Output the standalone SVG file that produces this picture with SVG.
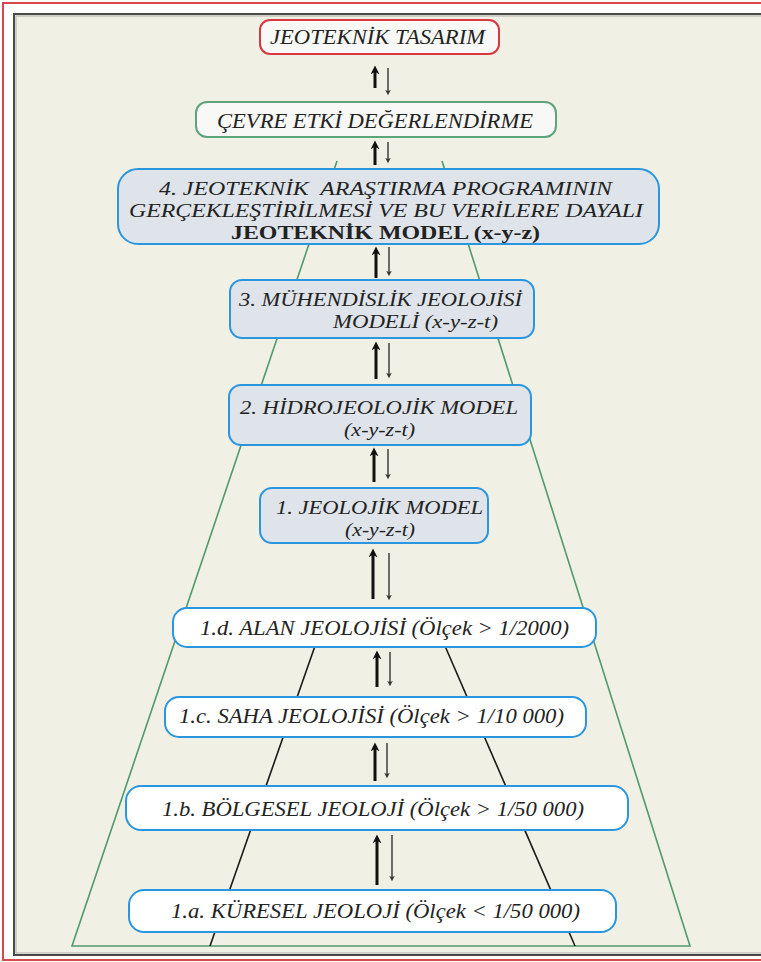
<svg xmlns="http://www.w3.org/2000/svg" width="761" height="962" viewBox="0 0 761 962">
<style>
  text { font-family: "Liberation Serif", "Times New Roman", serif; fill: #222; font-style: italic; white-space: pre; }
  .bold { font-weight: bold; font-style: normal; }
  .bx { stroke-width: 2; }
  .blue { stroke: #2a96e0; fill: #dee4ea; }
  .bluew { stroke: #2a96e0; fill: #ffffff; }
  .up { stroke: #111; stroke-width: 3; fill: none; marker-end: url(#hu); }
  .dn { stroke: #333; stroke-width: 1.4; fill: none; marker-end: url(#hd); }
</style>
<defs>
  <marker id="hu" viewBox="0 0 10 10" refX="6" refY="5" markerWidth="3" markerHeight="3" orient="auto" markerUnits="strokeWidth">
    <path d="M0,0 L10,5 L0,10 L3,5 Z" fill="#111"/>
  </marker>
  <marker id="hd" viewBox="0 0 10 10" refX="6" refY="5" markerWidth="4.5" markerHeight="4" orient="auto" markerUnits="strokeWidth">
    <path d="M0,0 L10,5 L0,10 L3,5 Z" fill="#333"/>
  </marker>
</defs>
<rect x="0" y="0" width="761" height="962" fill="#ffffff"/>
<rect x="3" y="3" width="780" height="957" fill="none" stroke="#d9464c" stroke-width="2"/>
<rect x="14" y="14" width="780" height="941" fill="#f1f0e4" stroke="#4a4a4a" stroke-width="2"/>
<rect x="16" y="16" width="780" height="937" fill="none" stroke="#b0b0a8" stroke-width="1"/>

<g id="connectors">
  <polyline points="337,161 72,946 690,946 442,161" fill="none" stroke="#4f9b6c" stroke-width="1.6"/>
  <line x1="315" y1="646" x2="210" y2="946" stroke="#1a1a1a" stroke-width="1.6"/>
  <line x1="445" y1="646" x2="575" y2="946" stroke="#1a1a1a" stroke-width="1.6"/>
  <line class="up" x1="375" y1="88" x2="375" y2="69"/>
  <line class="dn" x1="388" y1="68" x2="388" y2="93"/>
  <line class="up" x1="375" y1="165" x2="375" y2="144"/>
  <line class="dn" x1="388" y1="142" x2="388" y2="161"/>
  <line class="up" x1="376" y1="278" x2="376" y2="250"/>
  <line class="dn" x1="389" y1="247" x2="389" y2="274"/>
  <line class="up" x1="376" y1="379" x2="376" y2="345"/>
  <line class="dn" x1="389" y1="343" x2="389" y2="376"/>
  <line class="up" x1="374" y1="482" x2="374" y2="451"/>
  <line class="dn" x1="388" y1="449" x2="388" y2="477"/>
  <line class="up" x1="373" y1="599" x2="373" y2="552"/>
  <line class="dn" x1="389" y1="553" x2="389" y2="598"/>
  <line class="up" x1="377" y1="687" x2="377" y2="654"/>
  <line class="dn" x1="390" y1="652" x2="390" y2="684"/>
  <line class="up" x1="375" y1="781" x2="375" y2="746"/>
  <line class="dn" x1="387" y1="743" x2="387" y2="776"/>
  <line class="up" x1="377" y1="885" x2="377" y2="838"/>
  <line class="dn" x1="392" y1="835" x2="392" y2="879"/>
</g>

<g id="tasarim">
  <rect class="bx" x="260" y="20" width="239" height="34" rx="10" fill="#f8f8f6" stroke="#d9383e"/>
  <text x="270" y="44" font-size="20" textLength="215" lengthAdjust="spacingAndGlyphs">JEOTEKNİK TASARIM</text>
</g>
<g id="cevre">
  <rect class="bx" x="196" y="102" width="360" height="35" rx="11" fill="#f8f8f6" stroke="#5ea47a"/>
  <text x="217" y="128" font-size="22" textLength="316" lengthAdjust="spacingAndGlyphs">ÇEVRE ETKİ DEĞERLENDİRME</text>
</g>
<g id="n4">
  <rect class="bx blue" x="118" y="169" width="541" height="75" rx="20"/>
  <text x="159" y="194.5" font-size="19.5" textLength="453" lengthAdjust="spacingAndGlyphs">4. JEOTEKNİK  ARAŞTIRMA PROGRAMININ</text>
  <text x="129" y="216.5" font-size="19.5" textLength="514" lengthAdjust="spacingAndGlyphs">GERÇEKLEŞTİRİLMESİ VE BU VERİLERE DAYALI</text>
  <text class="bold" x="231" y="238.5" font-size="19.5" textLength="309" lengthAdjust="spacingAndGlyphs">JEOTEKNİK MODEL (x-y-z)</text>
</g>
<g id="n3">
  <rect class="bx blue" x="230" y="280" width="304" height="58" rx="12"/>
  <text x="239" y="306" font-size="19.5" textLength="283" lengthAdjust="spacingAndGlyphs">3. MÜHENDİSLİK JEOLOJİSİ</text>
  <text x="333" y="328" font-size="19.5" textLength="165" lengthAdjust="spacingAndGlyphs">MODELİ (x-y-z-t)</text>
</g>
<g id="n2">
  <rect class="bx blue" x="229" y="385" width="302" height="60" rx="12"/>
  <text x="240" y="414" font-size="19.5" textLength="278" lengthAdjust="spacingAndGlyphs">2. HİDROJEOLOJİK MODEL</text>
  <text x="344" y="436" font-size="19.5" textLength="71" lengthAdjust="spacingAndGlyphs">(x-y-z-t)</text>
</g>
<g id="n1">
  <rect class="bx blue" x="260" y="488" width="228" height="55" rx="12"/>
  <text x="276" y="514" font-size="19.5" textLength="207" lengthAdjust="spacingAndGlyphs">1. JEOLOJİK MODEL</text>
  <text x="345" y="536" font-size="19.5" textLength="70" lengthAdjust="spacingAndGlyphs">(x-y-z-t)</text>
</g>
<g id="n1d">
  <rect class="bx bluew" x="173" y="608" width="423" height="39" rx="14"/>
  <text x="200" y="635" font-size="20" textLength="369" lengthAdjust="spacingAndGlyphs">1.d. ALAN JEOLOJİSİ (Ölçek &gt; 1/2000)</text>
</g>
<g id="n1c">
  <rect class="bx bluew" x="165" y="697" width="421" height="40" rx="14"/>
  <text x="179" y="723" font-size="20" textLength="385" lengthAdjust="spacingAndGlyphs">1.c. SAHA JEOLOJİSİ (Ölçek &gt; 1/10 000)</text>
</g>
<g id="n1b">
  <rect class="bx bluew" x="126" y="786" width="502" height="44" rx="15"/>
  <text x="162" y="816" font-size="20" textLength="422" lengthAdjust="spacingAndGlyphs">1.b. BÖLGESEL JEOLOJİ (Ölçek &gt; 1/50 000)</text>
</g>
<g id="n1a">
  <rect class="bx bluew" x="129" y="890" width="487" height="42" rx="15"/>
  <text x="171" y="918" font-size="20" textLength="409" lengthAdjust="spacingAndGlyphs">1.a. KÜRESEL JEOLOJİ (Ölçek &lt; 1/50 000)</text>
</g>
</svg>
